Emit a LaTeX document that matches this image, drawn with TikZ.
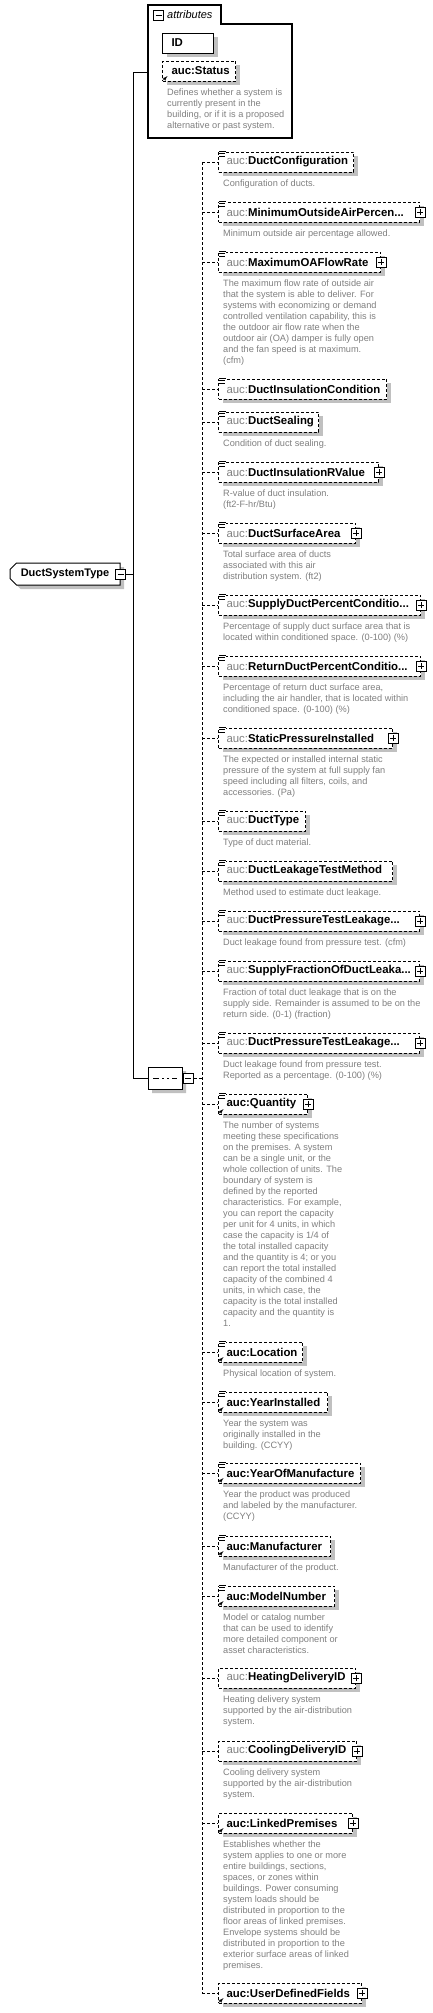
\documentclass[tikz,border=0pt]{standalone}
\usepackage{fontspec}
\setmainfont{Liberation Sans}
\usetikzlibrary{arrows,positioning,shadows,shapes.misc}
\newcommand{\pfx}{{\color{prefixgray}\mdseries auc:}}

\begin{document}
\begin{tikzpicture}[>=latex', x=1pt, y=-1pt]

\definecolor{shadowgray}{RGB}{192,192,192}
\definecolor{descgray}{RGB}{128,128,128}
\definecolor{prefixgray}{RGB}{128,128,128}

% Fill background
\fill[white] (0,0) rectangle (433,2013);
\useasboundingbox (0,0) rectangle (433,2013);

\tikzset{
    box/.style={
        draw, line width=1pt, fill=white,
        rectangle, anchor=west,
        minimum height=20pt, inner xsep=8pt, inner ysep=0pt,
        align=left, font=\fontsize{11.4}{13}\selectfont\bfseries,
        drop shadow={shadow xshift=4pt, shadow yshift=-4pt, fill=shadowgray, opacity=1}
    },
    elem/.style={box, dash pattern=on 3pt off 2pt, text width=#1},
    attr/.style={box, inner xsep=9pt, text width=#1},
    desc/.style={
        font=\fontsize{9.2}{11}\selectfont, text=descgray,
        align=left, inner sep=0pt, anchor=north west
    },
    plusbox/.style={
        draw, line width=1pt, fill=white, minimum size=10pt, inner sep=0pt,
        path picture={
            \draw[line width=0.8pt] ([xshift=2pt]path picture bounding box.west) -- ([xshift=-2pt]path picture bounding box.east);
            \draw[line width=0.8pt] ([yshift=2pt]path picture bounding box.south) -- ([yshift=-2pt]path picture bounding box.north);
        }
    },
    minusbox/.style={
        draw, line width=1pt, fill=white, minimum size=10pt, inner sep=0pt,
        path picture={
            \draw[line width=0.8pt] ([xshift=2pt]path picture bounding box.west) -- ([xshift=-2pt]path picture bounding box.east);
        }
    },
    typebox/.style={
        draw, line width=1pt, fill=white,
        chamfered rectangle, chamfered rectangle corners={north west,south west},
        chamfered rectangle angle=45, chamfered rectangle xsep=3pt,
        minimum width=110pt, minimum height=22pt, inner xsep=6pt, inner ysep=0pt,
        font=\fontsize{11}{13}\selectfont\bfseries,
        drop shadow={shadow xshift=4pt, shadow yshift=-4pt, fill=shadowgray, opacity=1}
    },
    seqbox/.style={
        draw, line width=1pt, fill=white,
        chamfered rectangle, chamfered rectangle angle=45, chamfered rectangle xsep=4pt,
        minimum width=34pt, minimum height=22pt, inner sep=0pt,
        drop shadow={shadow xshift=4pt, shadow yshift=-4pt, fill=shadowgray, opacity=1},
        path picture={
            \draw[line width=0.8pt] ([xshift=5pt]path picture bounding box.west) -- ([xshift=-5pt]path picture bounding box.east);
            \fill ([xshift=-6.5pt,yshift=-1.5pt]path picture bounding box.center) rectangle ++(3pt,3pt);
            \fill ([xshift=-1.5pt,yshift=-1.5pt]path picture bounding box.center) rectangle ++(3pt,3pt);
            \fill ([xshift=3.5pt,yshift=-1.5pt]path picture bounding box.center) rectangle ++(3pt,3pt);
        }
    },
    tree/.style={line width=1pt},
    conn/.style={line width=1pt, dash pattern=on 3pt off 2pt},
    simple/.pic={
        \fill[white] (0.5,-1.5) rectangle (8,6);
        \draw[line width=0.7pt] (1,-0.5) -- (7.5,-0.5) (1,2) -- (7,2) (1,4.5) -- (7,4.5);
    },
    refmark/.pic={
        \draw[line width=0.8pt,->] (1.5,-1.5) -- (5.5,-5.5);
    }
}

% --- COMPLEX TYPE ---
\node[typebox] (dst) at (65,574) {DuctSystemType};
\node[minusbox] (dstminus) at (dst.east) {};

% --- ATTRIBUTES ---
\draw[line width=1.4pt] (148,138) -- (148,5) -- (221,5) -- (221,24) -- (292,24) -- (292,138) -- cycle;
\node[minusbox] (attrminus) at (158.5,15.5) {};
\node[anchor=west, inner sep=0pt, font=\fontsize{11}{13}\selectfont\itshape] (attrlabel) at (167,15) {attributes};
\coordinate (attrlink) at (148,72);

\node[attr=33pt] (id) at (162,43) {ID};
\node[attr=55pt, dash pattern=on 3pt off 2pt] (status) at (162,71) {auc:Status};
\pic at (status.south west) {refmark};
\node[desc, below right=7pt and 5pt of status.south west] (statusdesc) {Defines whether a system is\\currently present in the\\building, or if it is a proposed\\alternative or past system.};

% --- SEQUENCE ---
\node[seqbox] (seq) at (165,1078) {};
\node[minusbox, anchor=west] (seqminus) at (seq.east) {};

% --- CHILD ELEMENTS ---
\node[elem=119pt] (dconf) at (218,162) {\pfx DuctConfiguration};
\pic at (dconf.north west) {simple};
\node[desc, below right=7pt and 5pt of dconf.south west] (dconfdesc) {Configuration of ducts.};

\node[elem=185pt] (minoa) at (218,212) {\pfx MinimumOutsideAirPercen...};
\pic at (minoa.north west) {simple};
\node[plusbox] (minoaplus) at (minoa.east) {};
\node[desc, below right=7pt and 5pt of minoa.south west] (minoadesc) {Minimum outside air percentage allowed.};

\node[elem=146pt] (maxoa) at (218,262) {\pfx MaximumOAFlowRate};
\pic at (maxoa.north west) {simple};
\node[plusbox] (maxoaplus) at (maxoa.east) {};
\node[desc, below right=7pt and 5pt of maxoa.south west] (maxoadesc) {The maximum flow rate of outside air\\that the system is able to deliver. For\\systems with economizing or demand\\controlled ventilation capability, this is\\the outdoor air flow rate when the\\outdoor air (OA) damper is fully open\\and the fan speed is at maximum.\\(cfm)};

\node[elem=152pt] (dinscond) at (218,389) {\pfx DuctInsulationCondition};
\pic at (dinscond.north west) {simple};

\node[elem=84pt] (dseal) at (218,422) {\pfx DuctSealing};
\pic at (dseal.north west) {simple};
\node[desc, below right=7pt and 5pt of dseal.south west] (dsealdesc) {Condition of duct sealing.};

\node[elem=144pt] (dinsr) at (218,472) {\pfx DuctInsulationRValue};
\pic at (dinsr.north west) {simple};
\node[plusbox] (dinsrplus) at (dinsr.east) {};
\node[desc, below right=7pt and 5pt of dinsr.south west] (dinsrdesc) {R-value of duct insulation.\\(ft2-F-hr/Btu)};

\node[elem=121pt] (dsurf) at (218,533) {\pfx DuctSurfaceArea};
\pic at (dsurf.north west) {simple};
\node[plusbox] (dsurfplus) at (dsurf.east) {};
\node[desc, below right=7pt and 5pt of dsurf.south west] (dsurfdesc) {Total surface area of ducts\\associated with this air\\distribution system. (ft2)};

\node[elem=186pt] (supcond) at (218,605) {\pfx SupplyDuctPercentConditio...};
\pic at (supcond.north west) {simple};
\node[plusbox] (supcondplus) at (supcond.east) {};
\node[desc, below right=7pt and 5pt of supcond.south west] (supconddesc) {Percentage of supply duct surface area that is\\located within conditioned space. (0-100) (\%)};

\node[elem=186pt] (retcond) at (218,666) {\pfx ReturnDuctPercentConditio...};
\pic at (retcond.north west) {simple};
\node[plusbox] (retcondplus) at (retcond.east) {};
\node[desc, below right=7pt and 5pt of retcond.south west] (retconddesc) {Percentage of return duct surface area,\\including the air handler, that is located within\\conditioned space. (0-100) (\%)};

\node[elem=158pt] (spres) at (218,738) {\pfx StaticPressureInstalled};
\pic at (spres.north west) {simple};
\node[plusbox] (spresplus) at (spres.east) {};
\node[desc, below right=7pt and 5pt of spres.south west] (spresdesc) {The expected or installed internal static\\pressure of the system at full supply fan\\speed including all filters, coils, and\\accessories. (Pa)};

\node[elem=71pt] (dtype) at (218,821) {\pfx DuctType};
\pic at (dtype.north west) {simple};
\node[desc, below right=7pt and 5pt of dtype.south west] (dtypedesc) {Type of duct material.};

\node[elem=158pt] (dltm) at (218,871) {\pfx DuctLeakageTestMethod};
\pic at (dltm.north west) {simple};
\node[desc, below right=7pt and 5pt of dltm.south west] (dltmdesc) {Method used to estimate duct leakage.};

\node[elem=185pt] (dptl) at (218,921) {\pfx DuctPressureTestLeakage...};
\pic at (dptl.north west) {simple};
\node[plusbox] (dptlplus) at (dptl.east) {};
\node[desc, below right=7pt and 5pt of dptl.south west] (dptldesc) {Duct leakage found from pressure test. (cfm)};

\node[elem=185pt] (sfdl) at (218,971) {\pfx SupplyFractionOfDuctLeaka...};
\pic at (sfdl.north west) {simple};
\node[plusbox] (sfdlplus) at (sfdl.east) {};
\node[desc, below right=7pt and 5pt of sfdl.south west] (sfdldesc) {Fraction of total duct leakage that is on the\\supply side. Remainder is assumed to be on the\\return side. (0-1) (fraction)};

\node[elem=185pt] (dptlpct) at (218,1043) {\pfx DuctPressureTestLeakage...};
\pic at (dptlpct.north west) {simple};
\node[plusbox] (dptlpctplus) at (dptlpct.east) {};
\node[desc, below right=7pt and 5pt of dptlpct.south west] (dptlpctdesc) {Duct leakage found from pressure test.\\Reported as a percentage. (0-100) (\%)};

\node[elem=73pt] (qty) at (218,1104) {auc:Quantity};
\pic at (qty.north west) {simple};
\pic at (qty.south west) {refmark};
\node[plusbox] (qtyplus) at (qty.east) {};
\node[desc, below right=7pt and 5pt of qty.south west] (qtydesc) {The number of systems\\meeting these specifications\\on the premises. A system\\can be a single unit, or the\\whole collection of units. The\\boundary of system is\\defined by the reported\\characteristics. For example,\\you can report the capacity\\per unit for 4 units, in which\\case the capacity is 1/4 of\\the total installed capacity\\and the quantity is 4; or you\\can report the total installed\\capacity of the combined 4\\units, in which case, the\\capacity is the total installed\\capacity and the quantity is\\1.};

\node[elem=68pt] (loc) at (218,1352) {auc:Location};
\pic at (loc.north west) {simple};
\pic at (loc.south west) {refmark};
\node[desc, below right=7pt and 5pt of loc.south west] (locdesc) {Physical location of system.};

\node[elem=93pt] (yinst) at (218,1402) {auc:YearInstalled};
\pic at (yinst.north west) {simple};
\pic at (yinst.south west) {refmark};
\node[desc, below right=7pt and 5pt of yinst.south west] (yinstdesc) {Year the system was\\originally installed in the\\building. (CCYY)};

\node[elem=126pt] (ymanuf) at (218,1473) {auc:YearOfManufacture};
\pic at (ymanuf.north west) {simple};
\pic at (ymanuf.south west) {refmark};
\node[desc, below right=7pt and 5pt of ymanuf.south west] (ymanufdesc) {Year the product was produced\\and labeled by the manufacturer.\\(CCYY)};

\node[elem=96pt] (manuf) at (218,1546) {auc:Manufacturer};
\pic at (manuf.north west) {simple};
\pic at (manuf.south west) {refmark};
\node[desc, below right=7pt and 5pt of manuf.south west] (manufdesc) {Manufacturer of the product.};

\node[elem=100pt] (model) at (218,1596) {auc:ModelNumber};
\pic at (model.north west) {simple};
\pic at (model.south west) {refmark};
\node[desc, below right=7pt and 5pt of model.south west] (modeldesc) {Model or catalog number\\that can be used to identify\\more detailed component or\\asset characteristics.};

\node[elem=121pt] (heatid) at (218,1678) {\pfx HeatingDeliveryID};
\node[plusbox] (heatidplus) at (heatid.east) {};
\node[desc, below right=7pt and 5pt of heatid.south west] (heatiddesc) {Heating delivery system\\supported by the air-distribution\\system.};

\node[elem=122pt] (coolid) at (218,1751) {\pfx CoolingDeliveryID};
\node[plusbox] (coolidplus) at (coolid.east) {};
\node[desc, below right=7pt and 5pt of coolid.south west] (cooliddesc) {Cooling delivery system\\supported by the air-distribution\\system.};

\node[elem=118pt] (linked) at (218,1823) {auc:LinkedPremises};
\pic at (linked.south west) {refmark};
\node[plusbox] (linkedplus) at (linked.east) {};
\node[desc, below right=7pt and 5pt of linked.south west] (linkeddesc) {Establishes whether the\\system applies to one or more\\entire buildings, sections,\\spaces, or zones within\\buildings. Power consuming\\system loads should be\\distributed in proportion to the\\floor areas of linked premises.\\Envelope systems should be\\distributed in proportion to the\\exterior surface areas of linked\\premises.};

\node[elem=127pt] (udf) at (218,1993) {auc:UserDefinedFields};
\pic at (udf.south west) {refmark};
\node[plusbox] (udfplus) at (udf.east) {};

% --- MAIN TREE LINES ---
\coordinate (trunk) at (133,574);
\draw[tree] (dstminus.east) -- (trunk);
\draw[tree] (trunk) |- (attrlink);
\draw[tree] (trunk) |- (seq.west);

% --- SEQUENCE SPINE ---
\coordinate (spinetop) at (202,162);
\coordinate (spinebot) at (202,1993);
\draw[conn] (spinetop) -- (spinebot);
\draw[conn] (seqminus.east) -- (seqminus.east -| spinetop);

\draw[conn] (dconf.west -| spinetop) -- (dconf.west);
\draw[conn] (minoa.west -| spinetop) -- (minoa.west);
\draw[conn] (maxoa.west -| spinetop) -- (maxoa.west);
\draw[conn] (dinscond.west -| spinetop) -- (dinscond.west);
\draw[conn] (dseal.west -| spinetop) -- (dseal.west);
\draw[conn] (dinsr.west -| spinetop) -- (dinsr.west);
\draw[conn] (dsurf.west -| spinetop) -- (dsurf.west);
\draw[conn] (supcond.west -| spinetop) -- (supcond.west);
\draw[conn] (retcond.west -| spinetop) -- (retcond.west);
\draw[conn] (spres.west -| spinetop) -- (spres.west);
\draw[conn] (dtype.west -| spinetop) -- (dtype.west);
\draw[conn] (dltm.west -| spinetop) -- (dltm.west);
\draw[conn] (dptl.west -| spinetop) -- (dptl.west);
\draw[conn] (sfdl.west -| spinetop) -- (sfdl.west);
\draw[conn] (dptlpct.west -| spinetop) -- (dptlpct.west);
\draw[conn] (qty.west -| spinetop) -- (qty.west);
\draw[conn] (loc.west -| spinetop) -- (loc.west);
\draw[conn] (yinst.west -| spinetop) -- (yinst.west);
\draw[conn] (ymanuf.west -| spinetop) -- (ymanuf.west);
\draw[conn] (manuf.west -| spinetop) -- (manuf.west);
\draw[conn] (model.west -| spinetop) -- (model.west);
\draw[conn] (heatid.west -| spinetop) -- (heatid.west);
\draw[conn] (coolid.west -| spinetop) -- (coolid.west);
\draw[conn] (linked.west -| spinetop) -- (linked.west);
\draw[conn] (udf.west -| spinetop) -- (udf.west);

\end{tikzpicture}
\end{document}
